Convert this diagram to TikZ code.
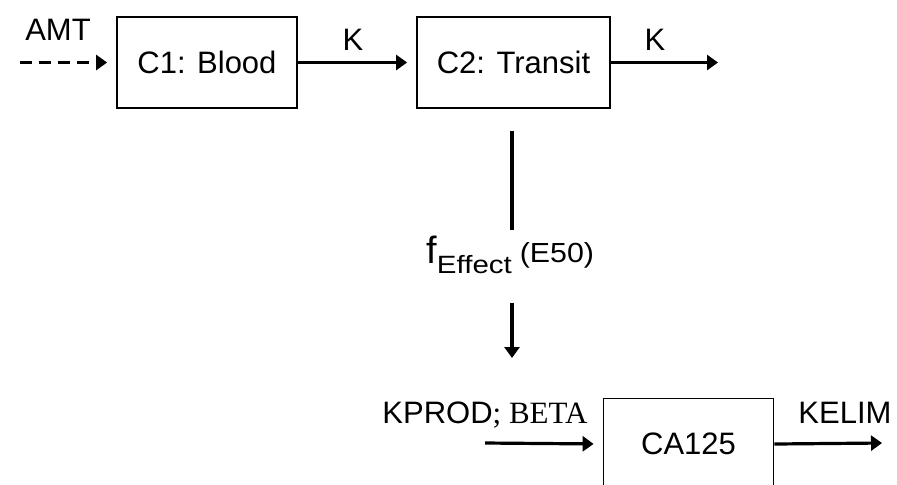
\documentclass[tikz,border=0pt]{standalone}
\usepackage{fontspec}
\setmainfont{Liberation Sans}
\newfontfamily\serifpart{Liberation Serif}
\usetikzlibrary{arrows.meta}
\newcommand{\widesub}[3]{\scalebox{#1}[1]{\fontsize{#2}{16}\selectfont #3}}
\begin{document}
\begin{tikzpicture}[x=0.5pt,y=-0.5pt,
  box/.style={draw,line width=0.9pt,minimum width=#1,minimum height=45.5pt,inner sep=0pt,
    font=\fontsize{15.5}{18}\selectfont},
  lbl/.style={inner sep=0pt,font=\fontsize{15.5}{18}\selectfont},
  flow/.style={line width=1.6pt,-{Triangle[length=5.5pt,width=7.5pt]}},
  intobox/.style={shorten >=4.5pt},
  plain/.style={line width=1.6pt},
  dashflow/.style={flow,dash pattern=on 6pt off 3.5pt}]
\useasboundingbox (0,0) rectangle (897,484);
\clip (0,0) rectangle (897,484);

% compartments
\node[box=90pt] (c1) at (207,62.5) {C1: Blood};
\node[box=96.5pt] (c2) at (513.5,62.5) {C2: Transit};
\node[box=85pt] (ca) at (688.5,444) {CA125};

% free ends of the open arrows
\coordinate (dose) at (20,62.5);
\coordinate (out2) at (718,62.5);
\coordinate (prod) at (485,443);
\coordinate (elim) at (882,443);
\coordinate (e1) at (512,131);
\coordinate (e2) at (512,230);
\coordinate (e3) at (512,303);
\coordinate (e4) at (512,358);

% flows
\draw[dashflow,intobox] (dose) -- (c1.west);
\draw[flow,intobox] (c1.east) -- (c2.west);
\draw[flow] (c2.east) -- (out2);
\draw[flow,intobox] (prod) -- (ca.west);
\draw[flow] (ca.east) -- (elim);

% drug effect link
\draw[plain] (e1) -- (e2);
\draw[flow] (e3) -- (e4);
\node[inner sep=0pt,anchor=base west] (eff) at (426,263)
  {\fontsize{19}{22}\selectfont f\raisebox{-5pt}{\widesub{1.18}{12.5}{Effect}}\hspace{4pt}\raisebox{0.5pt}{\widesub{1.1}{13.8}{(E50)}}};

% rate labels
\node[lbl] (amt) at (58,30) {AMT};
\node[lbl] (k1) at (353,40) {K};
\node[lbl] (k2) at (655,40) {K};
\node[lbl,anchor=base west] (kp) at (382,423) {KPROD{\serifpart; BETA}};
\node[lbl,anchor=base west] (ke) at (798,423) {KELIM};
\end{tikzpicture}
\end{document}
